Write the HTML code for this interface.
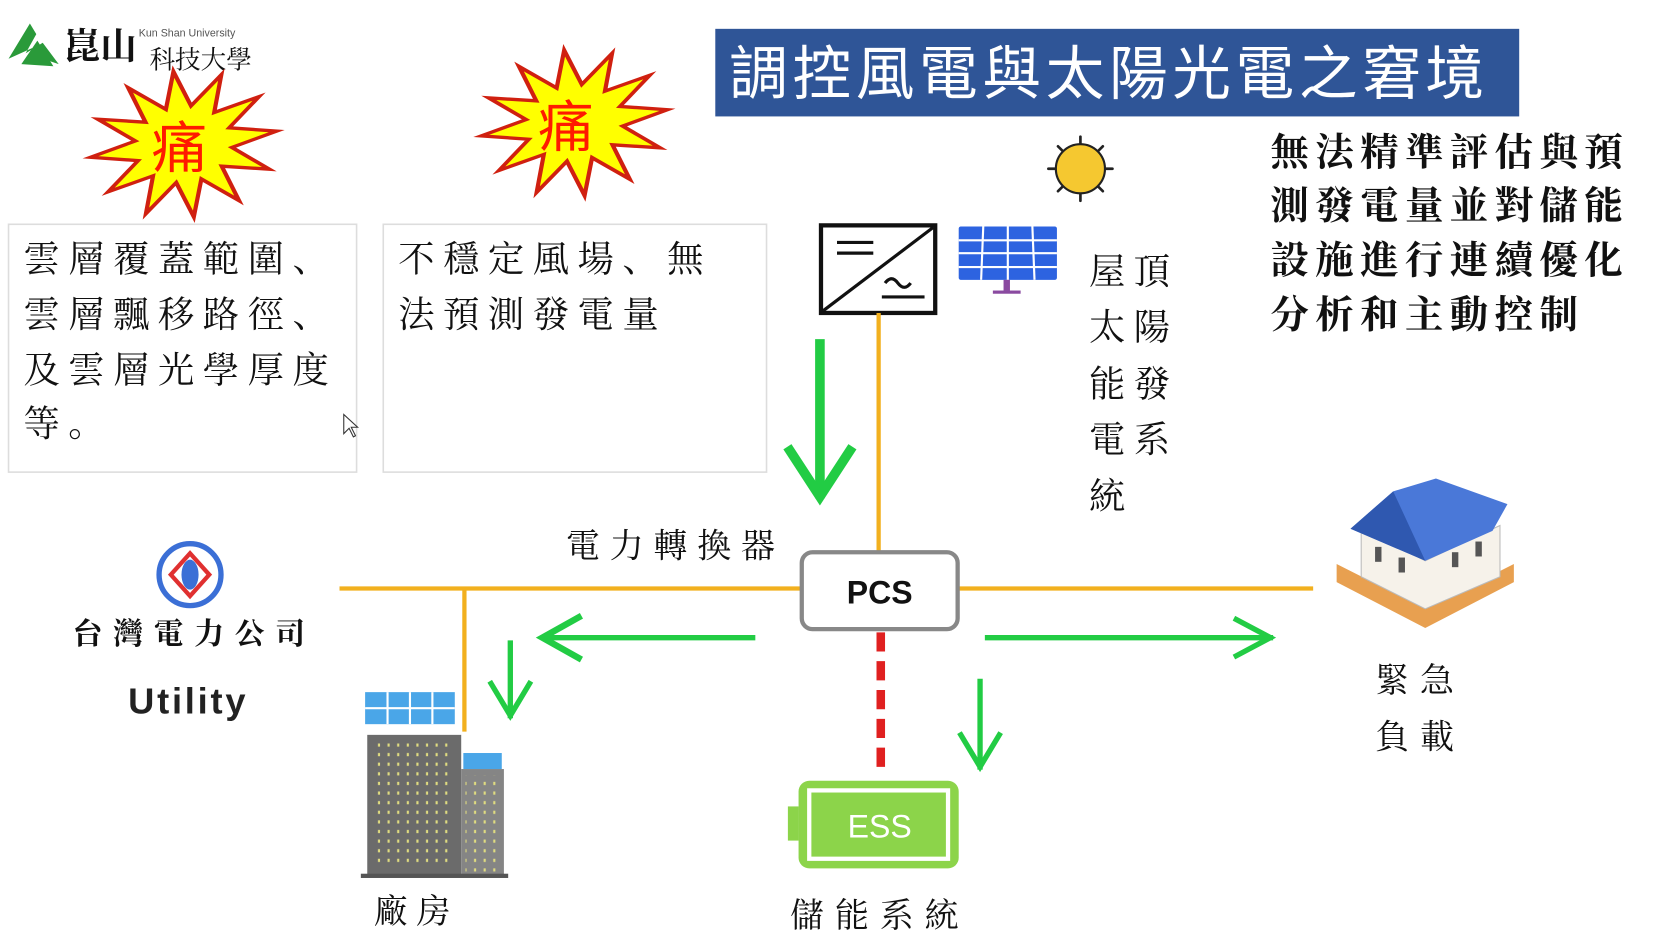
<!DOCTYPE html>
<html><head><meta charset="utf-8"><style>
html,body{margin:0;padding:0;background:#fff;}
svg{display:block}
.s{font-family:"Liberation Serif","Noto Serif CJK SC",serif;fill:#111;}
</style></head><body>
<svg width="1674" height="941" viewBox="0 0 1568 881" preserveAspectRatio="none" xmlns="http://www.w3.org/2000/svg">
<rect width="1568" height="881" fill="#fff"/>
<!-- logo -->
<path d="M8 55 L28 22 L34 32 L24 50 L40 40 L55 60 L40 55 L30 45 Z" fill="#2a9a3a"/>
<path d="M20 60 L35 38 L50 62 Z" fill="#2a9a3a"/>
<text x="60" y="55" font-size="34" class="s" font-weight="bold">崑山</text>
<text x="130" y="34" font-size="10" font-family="Liberation Sans,sans-serif" fill="#555">Kun Shan University</text>
<text x="140" y="64" font-size="24" class="s">科技大學</text>
<!-- starbursts -->
<g transform="translate(172,135) rotate(-8) scale(1,0.78)">
<polygon points="88,0 44.4,11.9 76.2,44 32.5,32.5 44,76.2 11.9,44.4 0,88 -11.9,44.4 -44,76.2 -32.5,32.5 -76.2,44 -44.4,11.9 -88,0 -44.4,-11.9 -76.2,-44 -32.5,-32.5 -44,-76.2 -11.9,-44.4 0,-88 11.9,-44.4 44,-76.2 32.5,-32.5 76.2,-44 44.4,-11.9" fill="#ffff00" stroke="#d02010" stroke-width="4"/>
</g>
<text x="168" y="157" font-size="52" text-anchor="middle" fill="#ff1a00" font-family="Liberation Sans,'Noto Sans CJK TC',sans-serif">痛</text>
<g transform="translate(538,115) rotate(-8) scale(1,0.78)">
<polygon points="88,0 44.4,11.9 76.2,44 32.5,32.5 44,76.2 11.9,44.4 0,88 -11.9,44.4 -44,76.2 -32.5,32.5 -76.2,44 -44.4,11.9 -88,0 -44.4,-11.9 -76.2,-44 -32.5,-32.5 -44,-76.2 -11.9,-44.4 0,-88 11.9,-44.4 44,-76.2 32.5,-32.5 76.2,-44 44.4,-11.9" fill="#ffff00" stroke="#d02010" stroke-width="4"/>
</g>
<text x="530" y="137" font-size="52" text-anchor="middle" fill="#ff1a00" font-family="Liberation Sans,'Noto Sans CJK TC',sans-serif">痛</text>
<!-- boxes -->
<rect x="8" y="210" width="326" height="232" fill="none" stroke="#ddd" stroke-width="1.5"/>
<rect x="359" y="210" width="359" height="232" fill="none" stroke="#ddd" stroke-width="1.5"/>
<g class="s" font-size="34" letter-spacing="8">
<text x="22" y="254">雲層覆蓋範圍、</text>
<text x="22" y="306">雲層飄移路徑、</text>
<text x="22" y="358">及雲層光學厚度</text>
<text x="22" y="408">等。</text>
<text x="373" y="254">不穩定風場、無</text>
<text x="373" y="306">法預測發電量</text>
</g>
<path d="M322 388 L322 406 L327 401 L331 409 L333 408 L329 400 L335 400 Z" fill="#fff" stroke="#333" stroke-width="1"/>
<!-- title -->
<rect x="670" y="27" width="753" height="82" fill="#2f5597"/>
<text x="683" y="88" font-size="55" fill="#fff" letter-spacing="4.3" font-family="Liberation Sans,'Noto Sans CJK TC',sans-serif">調控風電與太陽光電之窘境</text>
<g class="s" font-size="36" letter-spacing="6" font-weight="bold">
<text x="1190" y="155">無法精準評估與預</text>
<text x="1190" y="205">測發電量並對儲能</text>
<text x="1190" y="256">設施進行連續優化</text>
<text x="1190" y="307">分析和主動控制</text>
</g>
<!-- sun -->
<circle cx="1012" cy="158" r="23" fill="#f5c830" stroke="#222" stroke-width="2"/>
<g stroke="#222" stroke-width="2.5" stroke-linecap="round">
<line x1="1012" y1="128" x2="1012" y2="134"/><line x1="1012" y1="182" x2="1012" y2="188"/>
<line x1="982" y1="158" x2="988" y2="158"/><line x1="1036" y1="158" x2="1042" y2="158"/>
<line x1="991" y1="137" x2="995" y2="141"/><line x1="1029" y1="175" x2="1033" y2="179"/>
<line x1="1033" y1="137" x2="1029" y2="141"/><line x1="991" y1="179" x2="995" y2="175"/>
</g>
<!-- inverter -->
<rect x="769" y="211" width="107" height="82" fill="#fff" stroke="#111" stroke-width="4"/>
<line x1="771" y1="291" x2="874" y2="213" stroke="#111" stroke-width="3"/>
<line x1="784" y1="227" x2="818" y2="227" stroke="#111" stroke-width="3"/>
<line x1="784" y1="237" x2="818" y2="237" stroke="#111" stroke-width="3"/>
<path d="M829 265 q6 -8 12 0 t12 0" fill="none" stroke="#111" stroke-width="3"/>
<line x1="826" y1="278" x2="866" y2="278" stroke="#111" stroke-width="3"/>
<!-- solar panel -->
<rect x="898" y="212" width="92" height="50" rx="2" fill="#2d63e0"/>
<g stroke="#fff" stroke-width="2">
<line x1="921" y1="212" x2="919" y2="262"/><line x1="944" y1="212" x2="944" y2="262"/><line x1="967" y1="212" x2="969" y2="262"/>
<line x1="898" y1="225" x2="990" y2="225"/><line x1="898" y1="237" x2="990" y2="237"/><line x1="898" y1="250" x2="990" y2="250"/>
</g>
<rect x="940" y="262" width="6" height="10" fill="#8a4aa0"/><rect x="930" y="272" width="26" height="3" fill="#8a4aa0"/>
<g class="s" font-size="34" letter-spacing="8">
<text x="1020" y="266">屋頂</text><text x="1020" y="318">太陽</text><text x="1020" y="371">能發</text><text x="1020" y="423">電系</text><text x="1020" y="476">統</text>
</g>
<!-- orange lines -->
<g stroke="#f2b01e" stroke-width="4">
<line x1="823" y1="293" x2="823" y2="516"/>
<line x1="318" y1="551" x2="752" y2="551"/>
<line x1="898" y1="551" x2="1230" y2="551"/>
<line x1="435" y1="551" x2="435" y2="685"/>
</g>
<!-- green arrows -->
<g stroke="#22cc44" fill="none" stroke-linecap="square">
<line x1="768" y1="322" x2="768" y2="462" stroke-width="9"/>
<polyline points="740,422 768,465 796,422" stroke-width="9"/>
<line x1="705" y1="597" x2="510" y2="597" stroke-width="5"/>
<polyline points="542,578 508,597 542,616" stroke-width="6"/>
<line x1="478" y1="602" x2="478" y2="670" stroke-width="5"/>
<polyline points="460,640 478,670 496,640" stroke-width="5"/>
<line x1="925" y1="597" x2="1190" y2="597" stroke-width="5"/>
<polyline points="1158,580 1190,597 1158,614" stroke-width="5"/>
<line x1="918" y1="638" x2="918" y2="718" stroke-width="5"/>
<polyline points="900,688 918,718 936,688" stroke-width="5"/>
</g>
<!-- red dashed -->
<line x1="825" y1="592" x2="825" y2="718" stroke="#e02020" stroke-width="8" stroke-dasharray="18,9"/>
<!-- PCS -->
<rect x="751" y="517" width="146" height="72" rx="10" fill="#fff" stroke="#888" stroke-width="4"/>
<text x="824" y="565" font-size="30" text-anchor="middle" font-weight="bold" font-family="Liberation Sans,sans-serif" fill="#111">PCS</text>
<text x="530" y="522" font-size="32" letter-spacing="9" class="s">電力轉換器</text>
<!-- taipower -->
<circle cx="178" cy="538" r="29" fill="#fff" stroke="#3b6fd6" stroke-width="5"/>
<path d="M160 538 L178 518 L196 538 L178 558 Z" fill="none" stroke="#e03030" stroke-width="4"/>
<ellipse cx="178" cy="538" rx="8" ry="14" fill="#3b6fd6"/>
<text x="68" y="603" font-size="28" letter-spacing="10" class="s" font-weight="bold">台灣電力公司</text>
<text x="120" y="668" font-size="34" font-weight="bold" font-family="Liberation Sans,sans-serif" fill="#222" textLength="110">Utility</text>
<!-- building -->
<defs><pattern id="dots" width="9" height="9" patternUnits="userSpaceOnUse"><rect x="3" y="3" width="2" height="3" fill="#e0dc80"/></pattern></defs>
<rect x="342" y="648" width="84" height="30" fill="#4aa6e8"/>
<g stroke="#fff" stroke-width="2"><line x1="363" y1="648" x2="363" y2="678"/><line x1="384" y1="648" x2="384" y2="678"/><line x1="405" y1="648" x2="405" y2="678"/><line x1="342" y1="663" x2="426" y2="663"/></g>
<rect x="344" y="688" width="88" height="132" fill="#6b6b6b"/>
<rect x="432" y="720" width="40" height="100" fill="#858585"/>
<rect x="434" y="705" width="36" height="15" fill="#4aa6e8"/>
<rect x="338" y="818" width="138" height="4" fill="#555"/>
<rect x="352" y="696" width="72" height="116" fill="url(#dots)"/>
<rect x="436" y="726" width="32" height="90" fill="url(#dots)"/>
<text x="350" y="864" font-size="32" letter-spacing="8" class="s">廠房</text>
<!-- ESS -->
<rect x="738" y="755" width="10" height="32" fill="#8cd44a"/>
<rect x="748" y="731" width="150" height="82" rx="10" fill="#8cd44a"/>
<rect x="758" y="740" width="130" height="64" fill="none" stroke="#fff" stroke-width="4"/>
<text x="824" y="784" font-size="30" text-anchor="middle" fill="#fff" font-family="Liberation Sans,sans-serif">ESS</text>
<text x="740" y="868" font-size="32" letter-spacing="10" class="s">儲能系統</text>
<!-- house -->
<path d="M1252 545 L1335 588 L1418 545 L1418 528 L1335 570 L1252 528 Z" fill="#e8a050"/>
<path d="M1275 495 L1335 525 L1405 492 L1405 540 L1335 570 L1275 540 Z" fill="#f6f2ea" stroke="#bbb" stroke-width="1"/>
<path d="M1265 495 L1305 460 L1345 448 L1412 472 L1398 497 L1335 525 Z" fill="#4a78d8"/>
<path d="M1265 495 L1305 460 L1335 525 Z" fill="#2f58b0"/>
<g fill="#555"><rect x="1288" y="512" width="6" height="14"/><rect x="1310" y="522" width="6" height="14"/><rect x="1360" y="517" width="6" height="14"/><rect x="1382" y="507" width="6" height="14"/></g>
<text x="1288" y="648" font-size="32" letter-spacing="10" class="s">緊急</text>
<text x="1288" y="701" font-size="32" letter-spacing="10" class="s">負載</text>
</svg>
</body></html>
